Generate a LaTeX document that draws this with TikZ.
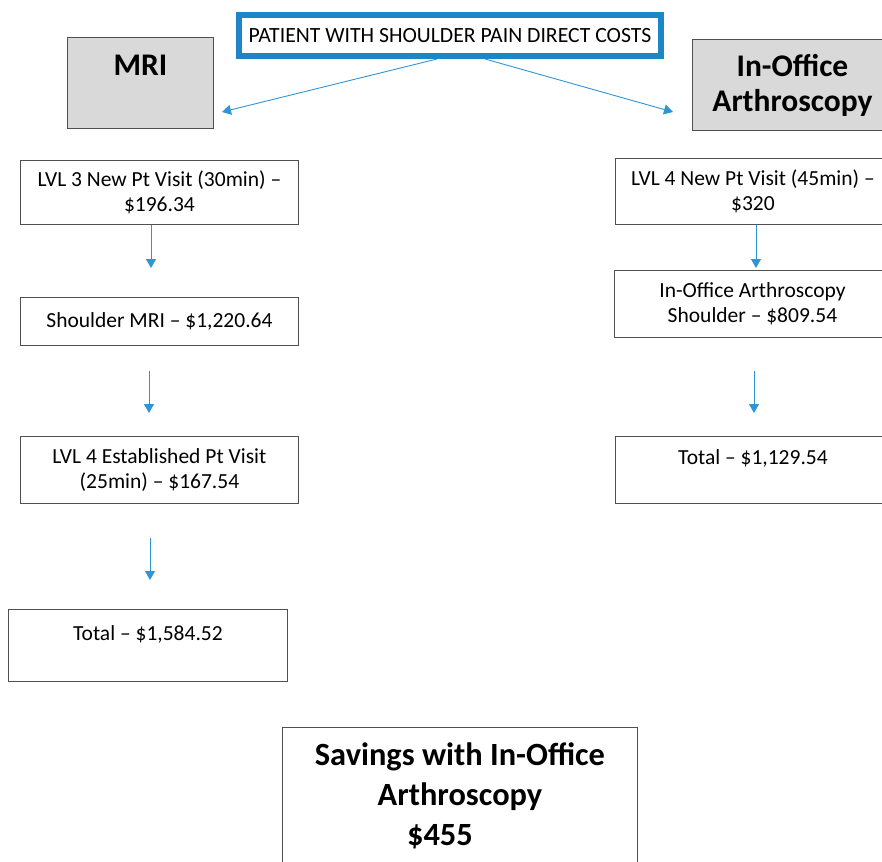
\documentclass[tikz,border=0pt]{standalone}
\usepackage{fontspec}
\setmainfont{Carlito}
\usetikzlibrary{arrows.meta,positioning}

\definecolor{linkblue}{HTML}{2E95D6}
\definecolor{frameblue}{HTML}{1C86C8}
\definecolor{edgegray}{HTML}{505050}
\definecolor{headgray}{HTML}{D9D9D9}

\tikzset{
  costbox/.style={draw=edgegray,fill=white,line width=0.9pt,align=center,
    anchor=north west,inner sep=0pt,
    font=\fontsize{21.5}{25.5}\selectfont},
  headbox/.style={costbox,fill=headgray,font=\bfseries\fontsize{31.5}{35}\selectfont},
  link/.style={draw=linkblue,line width=0.9pt,
    -{Triangle[width=10pt,length=9pt]}}
}

\begin{document}
\begin{tikzpicture}[x=1pt,y=-1pt]
\useasboundingbox (0,0) rectangle (882,861);

% top
\node[draw=frameblue,line width=6pt,fill=white,minimum width=422,minimum height=41,
  inner sep=0pt,font=\fontsize{21.7}{24}\selectfont] (title) at (450,35.5)
  {PATIENT WITH SHOULDER PAIN DIRECT COSTS};

\node[headbox,minimum width=146,minimum height=91,text depth=35pt] (mri) at (67,37)
  {MRI};
\node[headbox,minimum width=200,minimum height=91] (office) at (692,39)
  {In-Office\\Arthroscopy};

\coordinate (mriend) at (222,112);
\coordinate (officeend) at (673,112);
\draw[link] (title.south -| 437,0) -- (mriend);
\draw[link] (title.south -| 485,0) -- (officeend);

% MRI path
\node[costbox,minimum width=278,minimum height=64] (newvisit) at (20,160)
  {LVL 3 New Pt Visit (30min) --\\\$196.34};
\node[costbox,minimum width=278,minimum height=48] (scan) at (20,297)
  {Shoulder MRI -- \$1,220.64};
\node[costbox,minimum width=278,minimum height=67] (followup) at (20,436)
  {LVL 4 Established Pt Visit\\(25min) -- \$167.54};
\node[costbox,minimum width=279,minimum height=72] (mritotal) at (8,609)
  {Total -- \$1,584.52\\~};

\draw[link,shorten >=29] (newvisit.south -| 151,0) -- (scan.north -| 151,0);
\draw[link,shorten <=25,shorten >=23] (scan.south -| 149,0) -- (followup.north -| 149,0);
\draw[link,shorten <=34,shorten >=29] (followup.south -| 150,0) -- (mritotal.north -| 150,0);

% in-office path
\node[costbox,minimum width=275,minimum height=66] (officevisit) at (615,158)
  {LVL 4 New Pt Visit (45min) --\\\$320};
\node[costbox,minimum width=276,minimum height=67] (scope) at (614,270)
  {In-Office Arthroscopy\\Shoulder -- \$809.54};
\node[costbox,minimum width=275,minimum height=67] (officetotal) at (615,436)
  {Total -- \$1,129.54\\~};

\draw[link,shorten >=2] (officevisit.south -| 756,0) -- (scope.north -| 756,0);
\draw[link,shorten <=33,shorten >=23] (scope.south -| 754,0) -- (officetotal.north -| 754,0);

% savings
\node[costbox,minimum width=355,minimum height=136,
  font=\bfseries\fontsize{32.4}{40}\selectfont] (savings) at (282,727)
  {Savings with In-Office\\Arthroscopy\\\$455\hspace*{40pt}};
\end{tikzpicture}
\end{document}
